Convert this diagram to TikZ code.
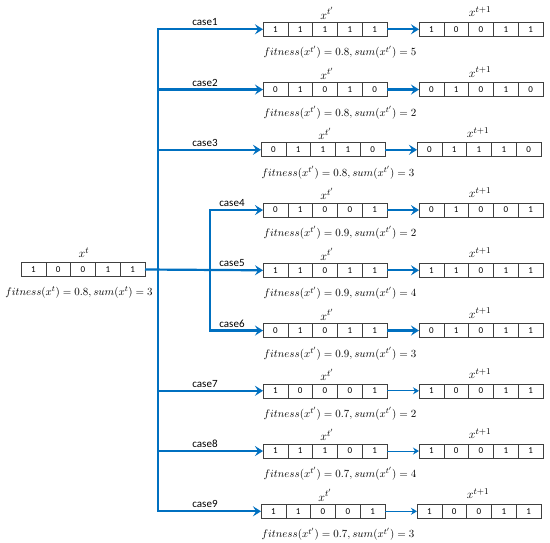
\documentclass[tikz,border=0pt]{standalone}
\usepackage{fontspec}
\setsansfont{Carlito}
\usetikzlibrary{arrows.meta}
\definecolor{lineblue}{RGB}{0,112,192}
\tikzset{
 cell/.style={draw=black!75, line width=0.6pt, minimum width=24.8pt, minimum height=14pt, inner sep=0pt, outer sep=0pt, font=\sffamily\fontsize{9}{9}\selectfont},
 bl/.style={draw=lineblue, line width=2.2pt},
 thickarr/.style={bl, -{Stealth[length=8pt,width=10pt,inset=3pt]}},
 thinarr/.style={draw=lineblue, line width=1.1pt, -{Stealth[length=6pt,width=7pt,inset=2pt]}},
 caselbl/.style={font=\sffamily\fontsize{11}{11}\selectfont, inner sep=0pt},
 mathlbl/.style={font=\fontsize{11.4}{13}\selectfont, inner sep=0pt},
 toplbl/.style={font=\fontsize{13}{15}\selectfont, inner sep=0pt},
}
\newcommand\bitrow[4]{\foreach \v [count=\i] in {#4} {\node[cell] (#1-\i) at ({#2+(\i-0.5)*24.8},{#3}) {\v};}}
\newcommand\caserow[8]{%
 \pgfmathsetmacro\ry{29.3+60.25*(#1-1)}%
 \bitrow{a#1}{#2}{\ry}{#4}%
 \bitrow{b#1}{#3}{\ry}{#5}%
 \node[toplbl] (xa#1) at ({#2+64},{\ry-16}) {$x^{t'}$};%
 \node[toplbl] (xb#1) at ({#3+61},{\ry-17.5}) {$x^{t+1}$};%
 \node[mathlbl] (f#1) at ({#2+77},{\ry+23}) {$fitness(x^{t'}) = #6, sum(x^{t'}) = #7$};%
 \draw[#8] (a#1-5.east) -- (b#1-1.west);%
}
\begin{document}
\begin{tikzpicture}[x=1pt,y=-1pt]
\useasboundingbox[fill=white] (0,0) rectangle (550,543);
% source
\bitrow{L}{21}{269.5}{1,0,0,1,1}
\node[toplbl] (xl) at (84,253) {$x^{t}$};
\node[mathlbl] (fl) at (79,292) {$fitness(x^{t}) = 0.8, sum(x^{t}) = 3$};
% cases
\caserow{1}{263}{419}{1,1,1,1,1}{1,0,0,1,1}{0.8}{5}{thickarr}
\caserow{2}{263}{419}{0,1,0,1,0}{0,1,0,1,0}{0.8}{2}{thickarr}
\caserow{3}{261}{417}{0,1,1,1,0}{0,1,1,1,0}{0.8}{3}{thickarr}
\caserow{4}{263}{419}{0,1,0,0,1}{0,1,0,0,1}{0.9}{2}{thickarr}
\caserow{5}{263}{419}{1,1,0,1,1}{1,1,0,1,1}{0.9}{4}{thickarr}
\caserow{6}{263}{419}{0,1,0,1,1}{0,1,0,1,1}{0.9}{3}{thickarr}
\caserow{7}{263}{419}{1,0,0,0,1}{1,0,0,1,1}{0.7}{2}{thinarr}
\caserow{8}{263}{419}{1,1,1,0,1}{1,0,0,1,1}{0.7}{4}{thinarr}
\caserow{9}{261}{417}{1,1,0,0,1}{1,0,0,1,1}{0.7}{3}{thinarr}
% trunk coordinates
\foreach \k in {1,2,3,7,8,9} {\coordinate (t\k) at (158,{29.3+60.25*(\k-1)});}
\coordinate (u4) at (210,{29.3+60.25*3});
\coordinate (u6) at (210,{29.3+60.25*5});
\draw[bl, line cap=rect] (t1) -- (t9);
\draw[bl, line cap=rect] (u4) -- (u6);
\foreach \k in {1,2,3,7,8,9} {\draw[thickarr] (t\k) -- (a\k-1.west);}
\draw[thickarr] (u4) -- (a4-1.west);
\draw[thickarr] (u6) -- (a6-1.west);
\draw[thickarr] (L-5.east) -- (a5-1.west);
% case labels
\foreach \k in {1,2,3,7,8,9} {\node[caselbl] (c\k) at (205,{29.3+60.25*(\k-1)-7}) {case\k};}
\foreach \k in {4,5,6} {\node[caselbl] (c\k) at (232,{29.3+60.25*(\k-1)-7}) {case\k};}
\end{tikzpicture}
\end{document}
